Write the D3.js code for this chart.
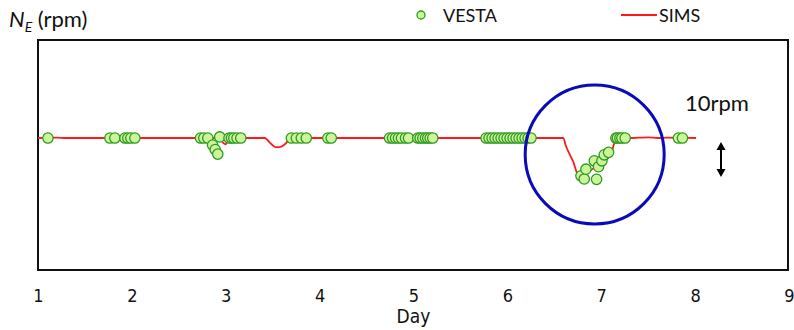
<!DOCTYPE html>
<html>
<head>
<meta charset="utf-8">
<script src="https://cdn.jsdelivr.net/npm/d3@7"></script>
<style>
  html, body { margin: 0; padding: 0; background: #fff; }
  svg { display: block; }
</style>
</head>
<body>
<svg id="chart" width="794" height="330"></svg>
<script>
// Axis ticks (days)
const dayTicks = [1, 2, 3, 4, 5, 6, 7, 8, 9];

// VESTA estimates: day and engine speed N_E (rpm)
const vestaDay = [
  1.106, 1.766, 1.819, 1.926, 1.957, 1.989, 2.032,
  2.731, 2.766, 2.809, 2.860, 2.888, 2.915, 2.936, 3.035, 3.061, 3.086, 3.120, 3.160,
  3.699, 3.752, 3.805, 3.858, 4.088, 4.124,
  4.745, 4.777, 4.809, 4.840, 4.872, 4.915, 4.947,
  5.046, 5.071, 5.099, 5.128, 5.152, 5.178, 5.205,
  5.773, 5.805, 5.837, 5.869, 5.901, 5.933, 5.965, 5.997,
  6.029, 6.061, 6.093, 6.125, 6.157, 6.189, 6.221, 6.252,
  6.784, 6.819, 6.837, 6.926, 6.950, 6.971, 7.007, 7.032, 7.078,
  7.156, 7.173, 7.199, 7.220, 7.255,
  7.822, 7.865
];
const vestaRpm = [
  37.7, 37.7, 37.7, 37.7, 37.7, 37.7, 37.7,
  37.7, 37.7, 37.7, 35.7, 34.4, 33.1, 38.0, 37.7, 37.7, 37.7, 37.7, 37.7,
  37.7, 37.7, 37.7, 37.7, 37.7, 37.7,
  37.7, 37.7, 37.7, 37.7, 37.7, 37.7, 37.7,
  37.7, 37.7, 37.7, 37.7, 37.7, 37.7, 37.7,
  37.7, 37.7, 37.7, 37.7, 37.7, 37.7, 37.7, 37.7,
  37.7, 37.7, 37.7, 37.7, 37.7, 37.7, 37.7, 37.7,
  26.9, 26.0, 28.8, 31.2, 25.9, 29.5, 31.2, 32.9, 33.6,
  37.7, 37.7, 37.7, 37.7, 37.7,
  37.7, 37.7
];

// SIMS simulated engine speed
const simsDay = [
  1.00, 1.20, 1.30, 1.60, 2.00, 2.50, 2.93, 2.97, 3.00, 3.03, 3.30,
  3.415, 3.47, 3.53, 3.57, 3.63, 3.70, 4.00, 4.50, 5.00, 5.50, 6.00, 6.596,
  6.62, 6.70, 6.766, 6.82, 6.92, 7.02, 7.10, 7.16, 7.30, 7.40, 7.50, 7.60, 7.70, 8.01
];
const simsRpm = [
  37.7, 37.8, 37.7, 37.7, 37.7, 37.7, 37.7, 36.4, 35.9, 37.7, 37.7,
  37.7, 36.4, 35.1, 35.1, 35.9, 37.7, 37.7, 37.7, 37.7, 37.7, 37.7, 37.7,
  35.7, 31.0, 26.6, 27.1, 29.1, 30.9, 32.9, 37.4, 37.7, 37.8, 37.9, 37.7, 37.8, 37.7
];

// Size of the reference arrow, rpm
const arrowSpan = 10;

const svg = d3.select("#chart");
const margin = { left: 38, right: 5, top: 40, bottom: 60 };
const W = 794, H = 330;

const x = d3.scaleLinear().domain([1, 9]).range([margin.left, W - margin.right]);
const y = d3.scaleLinear().domain([0, 65.7]).range([H - margin.bottom, margin.top]);

const condensed = "'DejaVu Sans Condensed', 'Liberation Sans Narrow', sans-serif";
const textFont = "Lato, 'Open Sans', sans-serif";

// Frame
svg.append("rect")
  .attr("x", x(1)).attr("y", y(65.7))
  .attr("width", x(9) - x(1) - 1).attr("height", y(0) - y(65.7))
  .attr("fill", "none").attr("stroke", "#111").attr("stroke-width", 2);

// X axis labels
const xAxis = d3.axisBottom(x).tickValues(dayTicks).tickSize(0).tickPadding(19).tickFormat(d3.format("d"));
const gx = svg.append("g").attr("transform", `translate(0,${y(0)})`).call(xAxis);
gx.select(".domain").remove();
gx.selectAll("text")
  .attr("font-family", condensed)
  .attr("font-size", 18).attr("fill", "#111");

svg.append("text").attr("x", x(5)).attr("y", 323).attr("text-anchor", "middle")
  .attr("font-family", condensed)
  .attr("font-size", 19).attr("fill", "#111").text("Day");

// Y title
const yt = svg.append("text").attr("x", 9).attr("y", 27)
  .attr("font-family", textFont).attr("font-size", 22).attr("fill", "#111");
yt.append("tspan").attr("font-style", "italic").text("N");
yt.append("tspan").attr("font-style", "italic").attr("font-size", 14).attr("dy", 5).text("E");
yt.append("tspan").attr("dy", -5).text(" (rpm)");

// SIMS line
const line = d3.line().x(d => x(d[0])).y(d => y(d[1])).curve(d3.curveMonotoneX);
svg.append("path")
  .datum(d3.zip(simsDay, simsRpm))
  .attr("d", line)
  .attr("fill", "none").attr("stroke", "#ff1a1a").attr("stroke-width", 1.8);

// VESTA points
svg.append("g").selectAll("circle")
  .data(d3.zip(vestaDay, vestaRpm))
  .join("circle")
  .attr("cx", d => x(d[0])).attr("cy", d => y(d[1])).attr("r", 5.2)
  .attr("fill", "#ccf59a").attr("stroke", "#2e9a22").attr("stroke-width", 1.3);

// Highlight circle around the day-7 dip
svg.append("circle")
  .attr("cx", x(6.93)).attr("cy", y(33)).attr("r", 69.5)
  .attr("fill", "none").attr("stroke", "#0a0ab8").attr("stroke-width", 3);

// 10 rpm reference arrow
const ax = 721;
const yTop = y(37.7) + 4, yBot = yTop + (y(0) - y(arrowSpan));
svg.append("line").attr("x1", ax).attr("x2", ax).attr("y1", yTop + 5).attr("y2", yBot - 5)
  .attr("stroke", "#000").attr("stroke-width", 2);
svg.append("path").attr("d", `M${ax},${yTop} L${ax - 4.5},${yTop + 8} L${ax + 4.5},${yTop + 8} Z`).attr("fill", "#000");
svg.append("path").attr("d", `M${ax},${yBot} L${ax - 4.5},${yBot - 8} L${ax + 4.5},${yBot - 8} Z`).attr("fill", "#000");
svg.append("text").attr("x", 685).attr("y", 111)
  .attr("font-family", textFont).attr("font-size", 22).attr("fill", "#111")
  .text(arrowSpan + "rpm");

// Legend
svg.append("circle").attr("cx", 421).attr("cy", 15).attr("r", 4)
  .attr("fill", "#ccf59a").attr("stroke", "#2e9a22").attr("stroke-width", 1.3);
svg.append("text").attr("x", 443).attr("y", 22).attr("font-family", textFont)
  .attr("font-size", 18).attr("fill", "#111").text("VESTA");
svg.append("line").attr("x1", 621).attr("x2", 657).attr("y1", 15).attr("y2", 15)
  .attr("stroke", "#ff1a1a").attr("stroke-width", 1.8);
svg.append("text").attr("x", 659).attr("y", 22).attr("font-family", textFont)
  .attr("font-size", 18).attr("fill", "#111").text("SIMS");
</script>
</body>
</html>
